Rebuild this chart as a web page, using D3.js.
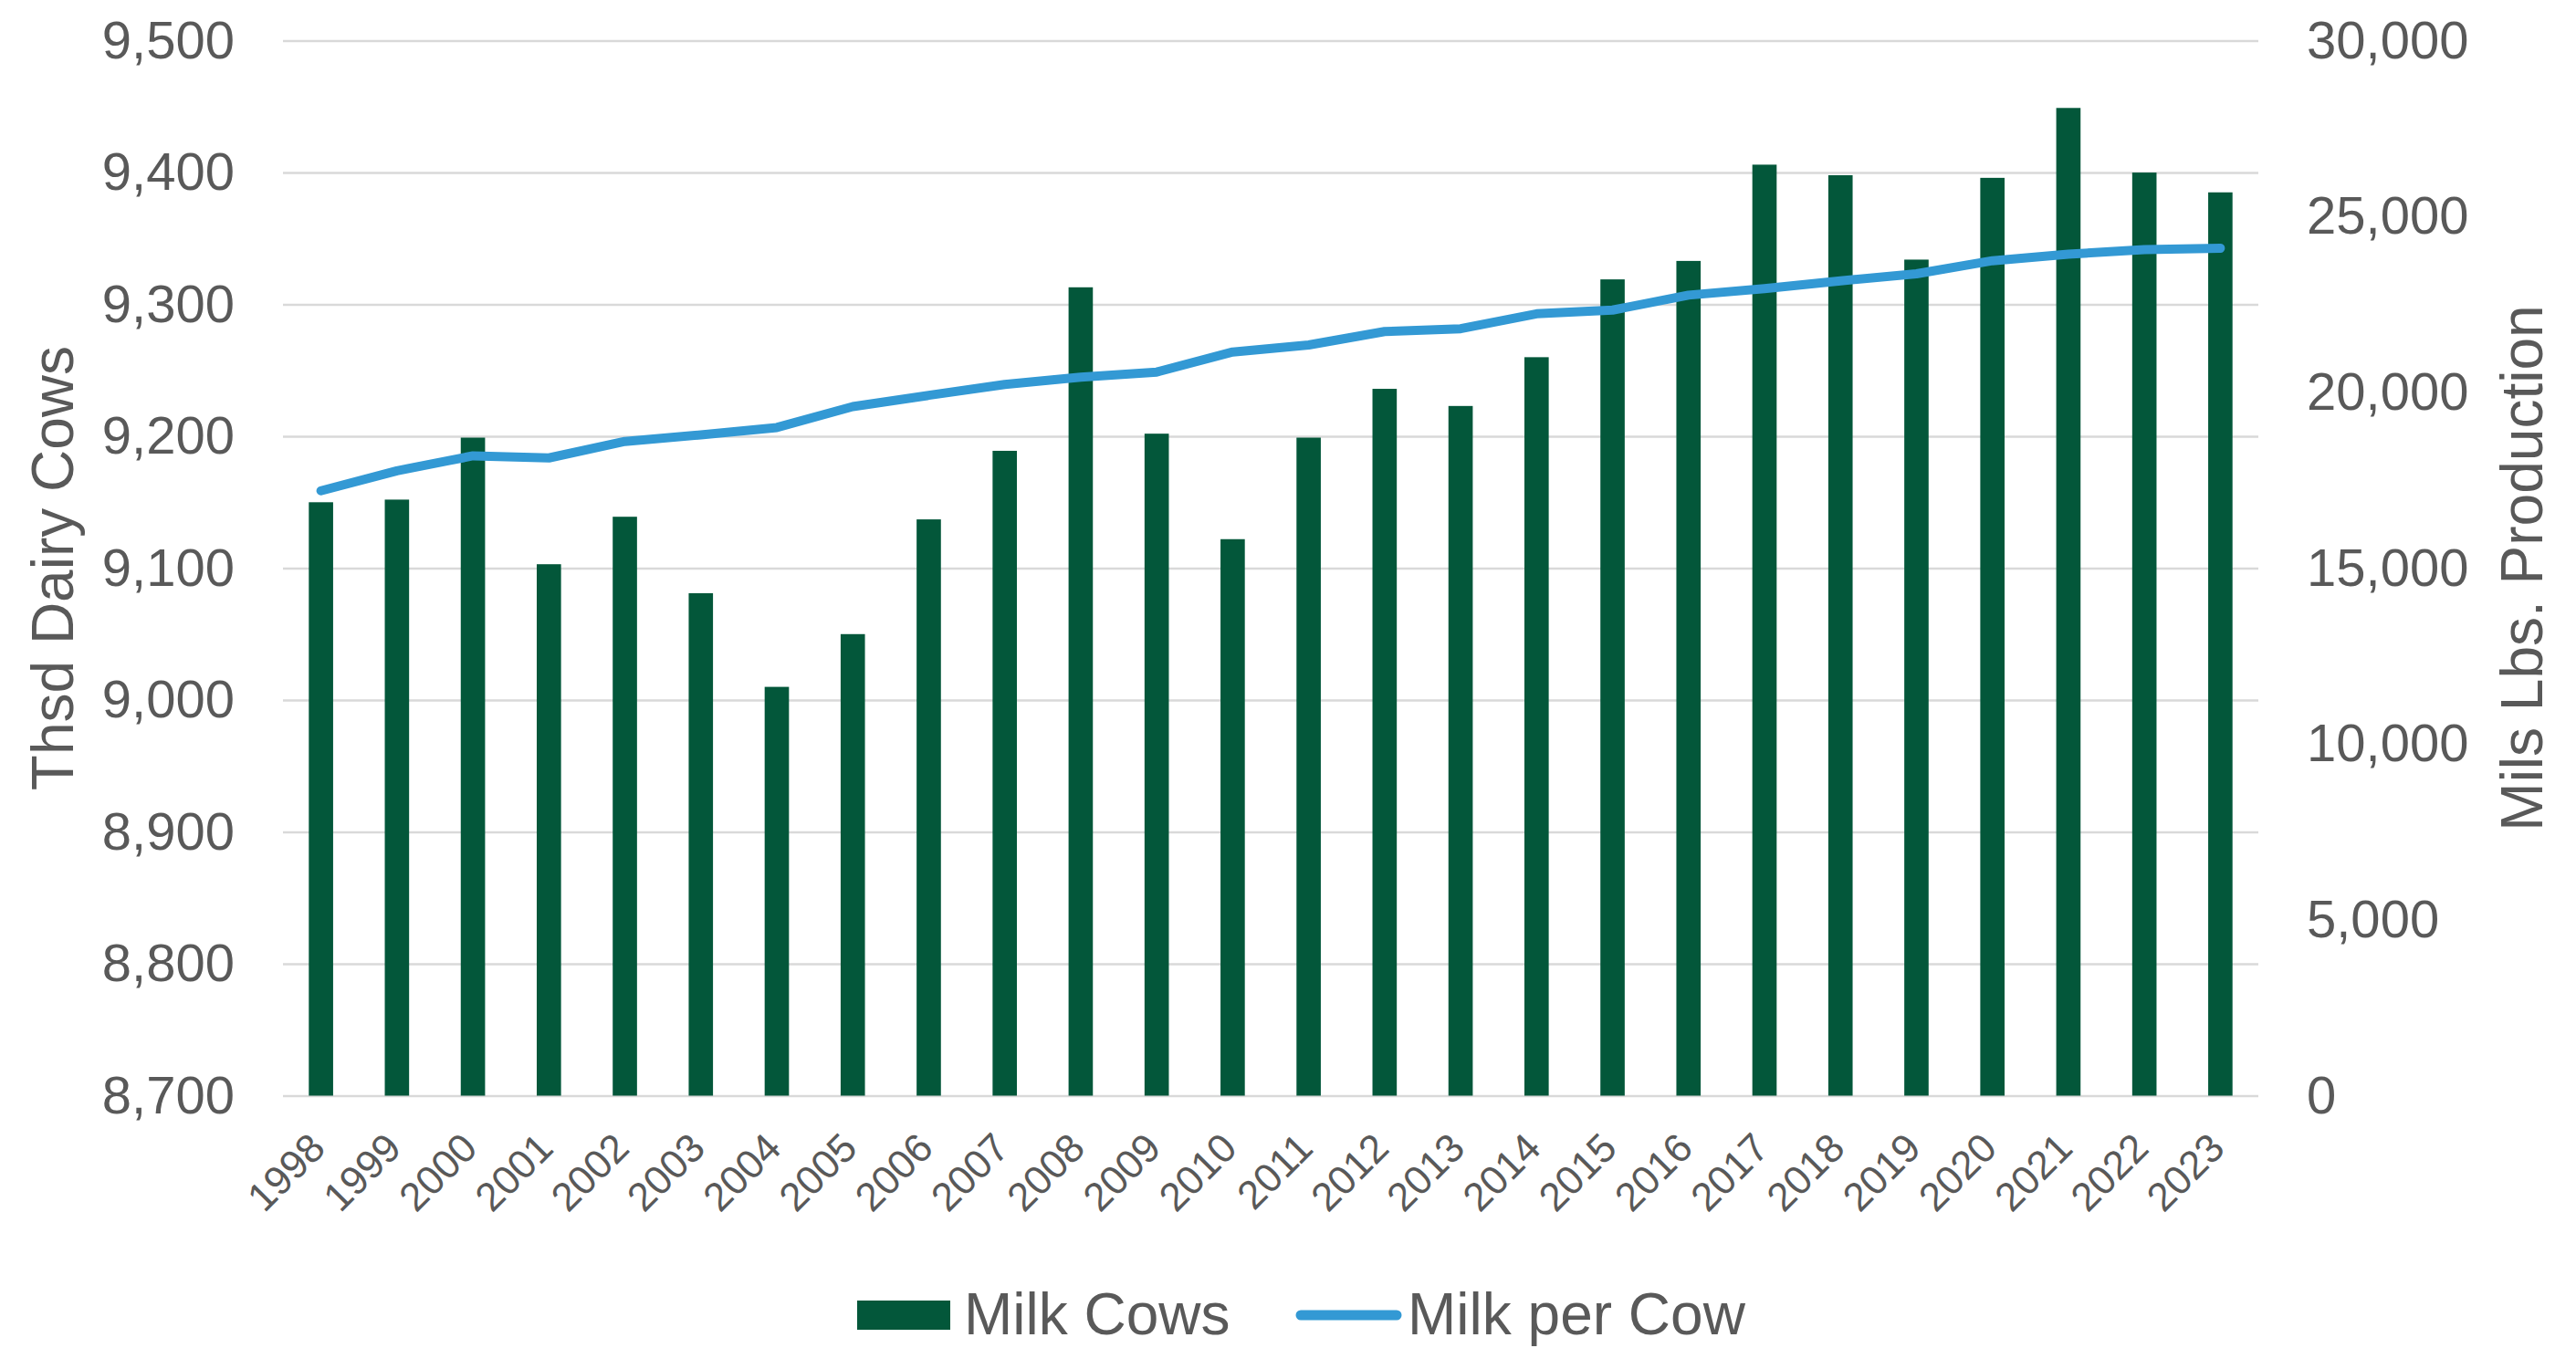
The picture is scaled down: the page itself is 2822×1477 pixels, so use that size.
<!DOCTYPE html>
<html>
<head>
<meta charset="utf-8">
<script src="https://cdn.jsdelivr.net/npm/d3@7"></script>
<style>
    body { margin: 0; background: #ffffff; }
    text { font-family: "Liberation Sans", Arial, sans-serif; fill: #595959; }
</style>
</head>
<body>
<svg id="chart"></svg>
<script>
// data
var years = ["1998","1999","2000","2001","2002","2003","2004","2005","2006","2007","2008","2009","2010",
             "2011","2012","2013","2014","2015","2016","2017","2018","2019","2020","2021","2022","2023"];
// Thsd dairy cows (left axis)
var milkCows = [9150, 9152, 9199, 9103, 9139, 9081, 9010, 9050, 9137, 9189, 9313, 9202, 9122,
                9199, 9236, 9223, 9260, 9319, 9333, 9406, 9398, 9334, 9396, 9449, 9400, 9385];
// milk per cow (right axis)
var milkPerCow = [17200, 17770, 18195, 18135, 18605, 18790, 19000, 19595, 19915, 20225, 20430, 20577, 21147,
                  21347, 21729, 21810, 22233, 22339, 22765, 22949, 23172, 23372, 23743, 23927, 24060, 24099];
var leftTicks = [8700, 8800, 8900, 9000, 9100, 9200, 9300, 9400, 9500];
var rightTicks = [0, 5000, 10000, 15000, 20000, 25000, 30000];
var seriesNames = ["Milk Cows", "Milk per Cow"];

//Width and height of svg
var w = 2822;
var h = 1477;
// plot area edges
var plotLeft = 310, plotRight = 2474, plotTop = 44.6, plotBottom = 1200.5;
var green = "#03573a";
var blue = "#3399d4";

var svg = d3.select("#chart")
            .attr("width", w)
            .attr("height", h);

//Create scale functions
var xScale = d3.scaleBand()
            .domain(years)
            .range([plotLeft, plotRight])
            .paddingInner(0.68)
            .paddingOuter(0.34);

var yScale = d3.scaleLinear()
            .domain([8700, 9500])
            .range([plotBottom, plotTop]);

var yScaleRight = d3.scaleLinear()
            .domain([0, 30000])
            .range([plotBottom, plotTop]);

// Gridlines
svg.append("g")
    .attr("class", "grid")
    .attr("transform", "translate(" + plotLeft + ",0)")
    .call(d3.axisLeft(yScale).tickValues(leftTicks).tickSize(-(plotRight - plotLeft)).tickFormat(""))
    .call(function(g) { g.select(".domain").remove(); })
    .selectAll("line")
    .attr("stroke", "#d9d9d9")
    .attr("stroke-width", 2.5);

// Create bars
svg.selectAll("rect.bar")
    .data(years)
    .enter()
    .append("rect")
    .attr("class", "bar")
    .attr("x", function(d) { return xScale(d); })
    .attr("y", function(d, i) { return yScale(milkCows[i]); })
    .attr("width", xScale.bandwidth())
    .attr("height", function(d, i) { return yScale(8700) - yScale(milkCows[i]); })
    .attr("fill", green);

// Line for milk per cow
var line = d3.line()
    .x(function(d, i) { return xScale(years[i]) + xScale.bandwidth() / 2; })
    .y(function(d) { return yScaleRight(d); });

svg.append("path")
    .datum(milkPerCow)
    .attr("d", line)
    .attr("fill", "none")
    .attr("stroke", blue)
    .attr("stroke-width", 10)
    .attr("stroke-linecap", "round")
    .attr("stroke-linejoin", "round");

//Create Y axis (left)
svg.append("g")
    .attr("class", "yAxis")
    .attr("transform", "translate(" + plotLeft + ",0)")
    .call(d3.axisLeft(yScale).tickValues(leftTicks).tickSize(0).tickPadding(53).tickFormat(d3.format(",")))
    .call(function(g) { g.select(".domain").remove(); })
    .selectAll("text")
    .attr("font-size", 58);

//Create Y axis (right)
svg.append("g")
    .attr("class", "yAxisRight")
    .attr("transform", "translate(" + plotRight + ",0)")
    .call(d3.axisRight(yScaleRight).tickValues(rightTicks).tickSize(0).tickPadding(53).tickFormat(d3.format(",")))
    .call(function(g) { g.select(".domain").remove(); })
    .selectAll("text")
    .attr("font-size", 58);

//Create X axis
svg.append("g")
    .attr("class", "xAxis")
    .attr("transform", "translate(0," + plotBottom + ")")
    .call(d3.axisBottom(xScale).tickSize(0))
    .call(function(g) { g.select(".domain").remove(); })
    .selectAll("text")
    .attr("x", 0)
    .attr("y", 0)
    .attr("dy", null)
    .attr("font-size", 44)
    .attr("text-anchor", "end")
    .attr("transform", "translate(7,60) rotate(-45)");

svg.selectAll(".xAxis text, .yAxis text, .yAxisRight text")
    .attr("fill", "#595959")
    .attr("font-family", "Liberation Sans, Arial, sans-serif");

// Y axis labels
svg.append("text")
    .attr("text-anchor", "middle")
    .attr("transform", "translate(80," + ((plotTop + plotBottom) / 2) + ") rotate(-90)")
    .attr("font-size", 64)
    .text("Thsd Dairy Cows");

svg.append("text")
    .attr("text-anchor", "middle")
    .attr("transform", "translate(2785," + ((plotTop + plotBottom) / 2) + ") rotate(-90)")
    .attr("font-size", 64)
    .text("Mils Lbs. Production");

// Legend
var legend = svg.append("g").attr("class", "legend");

legend.append("rect")
    .attr("x", 939)
    .attr("y", 1425)
    .attr("width", 102)
    .attr("height", 32)
    .attr("fill", green);

legend.append("text")
    .attr("x", 1056)
    .attr("y", 1462)
    .attr("font-size", 64)
    .text(seriesNames[0]);

legend.append("line")
    .attr("x1", 1425)
    .attr("x2", 1530)
    .attr("y1", 1441)
    .attr("y2", 1441)
    .attr("stroke", blue)
    .attr("stroke-width", 11)
    .attr("stroke-linecap", "round");

legend.append("text")
    .attr("x", 1542)
    .attr("y", 1462)
    .attr("font-size", 64)
    .text(seriesNames[1]);
</script>
</body>
</html>
